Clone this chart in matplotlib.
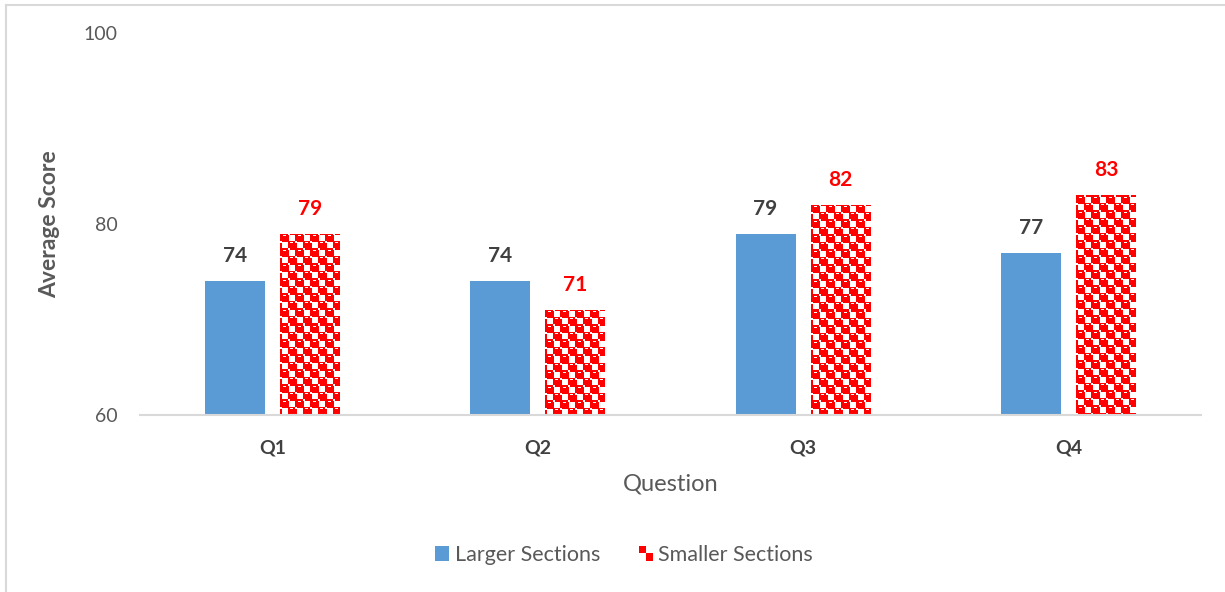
import numpy as np
import matplotlib.pyplot as plt
from matplotlib.patches import Patch, Rectangle
from matplotlib.legend_handler import HandlerBase
from matplotlib.lines import Line2D

questions = ['Q1', 'Q2', 'Q3', 'Q4']
larger_sections = [74, 74, 79, 77]
smaller_sections = [79, 71, 82, 83]
y_ticks = [60, 80, 100]

BLUE = '#5B9BD5'
RED = '#FF0000'
GREY = '#595959'
DARK = '#404040'

plt.rcParams['font.family'] = ['Lato', 'DejaVu Sans']


def pattern_image(w_px, h_px, period=15.0):
    # red/white checker; red cells grow a little so red dominates,
    # each with a short white notch near its top
    cell = period / 2
    yy, xx = np.mgrid[0:max(h_px, 1), 0:max(w_px, 1)]
    cx = np.floor(xx / cell).astype(int)
    cy = np.floor(yy / cell).astype(int)
    lx = xx - cx * cell
    ly = yy - cy * cell
    red = (cx + cy) % 2 == 0
    # spill one pixel into the neighbouring white cell (right and below)
    spill = (~red) & (((lx < 1.2) & (ly >= 2)) | ((ly < 1.2) & (lx >= 2)))
    notch = red & (ly >= 1.5) & (ly < 2.5) & (lx >= 2.5) & (lx < cell - 2)
    red = (red | spill) & ~notch
    img = np.ones((yy.shape[0], yy.shape[1], 3))
    img[red] = (1, 0, 0)
    return img


class PatternHandler(HandlerBase):
    def create_artists(self, legend, orig_handle, xdescent, ydescent,
                       width, height, fontsize, trans):
        arts = [Rectangle((-xdescent, -ydescent), width, height,
                          facecolor='white', edgecolor='none', transform=trans)]
        n = 2
        w, h = width / n, height / n
        for i in range(n):
            for j in range(n):
                if (i + j) % 2 == 1:
                    arts.append(Rectangle((-xdescent + i * w, -ydescent + j * h), w, h,
                                          facecolor=RED, edgecolor='none',
                                          transform=trans))
        return arts


W, H = 1225, 592
fig = plt.figure(figsize=(W / 100, H / 100), dpi=100)
ax = fig.add_axes([140 / W, 177 / H, 1061 / W, 382 / H])

x = np.arange(len(questions))
bar_w = 0.226
offset = 0.1415

ax.set_xlim(-0.5, len(questions) - 0.5)
ax.set_ylim(60, 100)

ax.bar(x - offset, np.array(larger_sections) - 60, bar_w, bottom=60,
       color=BLUE, zorder=2)
red_bars = ax.bar(x + offset, np.array(smaller_sections) - 60, bar_w, bottom=60,
                  facecolor='none', edgecolor='none', zorder=2)

# fill the smaller-section bars with the checker texture
for bar, val in zip(red_bars, smaller_sections):
    x0 = bar.get_x()
    x1 = x0 + bar.get_width()
    p0 = ax.transData.transform((x0, 60))
    p1 = ax.transData.transform((x1, val))
    w_px = int(round(p1[0] - p0[0]))
    h_px = int(round(p1[1] - p0[1]))
    img = ax.imshow(pattern_image(w_px, h_px), extent=(x0, x1, 60, val),
                    interpolation='nearest', aspect='auto', zorder=2)
    img.set_clip_path(bar)

for xi, val in zip(x - offset, larger_sections):
    ax.annotate(str(val), (xi, val), xytext=(0, 18), textcoords='offset points',
                ha='center', va='center', fontsize=15, fontweight='bold', color=DARK)
for xi, val in zip(x + offset, smaller_sections):
    ax.annotate(str(val), (xi, val), xytext=(0, 18), textcoords='offset points',
                ha='center', va='center', fontsize=15, fontweight='bold', color=RED)

for side in ['top', 'right', 'left']:
    ax.spines[side].set_visible(False)
ax.spines['bottom'].set_color('#D9D9D9')
ax.spines['bottom'].set_linewidth(1.5)

ax.set_yticks(y_ticks)
ax.tick_params(axis='y', length=0, pad=16, labelsize=14, labelcolor=GREY)
ax.set_xticks(x)
ax.set_xticklabels(questions, fontweight='bold')
ax.tick_params(axis='x', length=0, pad=18, labelsize=14, labelcolor=DARK)

ax.set_ylabel('Average Score', fontsize=16.5, fontweight='bold', color=GREY)
ax.yaxis.set_label_coords(-0.075, 0.5)
ax.set_xlabel('Question', fontsize=17, color=GREY)
ax.xaxis.set_label_coords(0.5, -0.152)

pattern_handle = Patch(facecolor=RED)
fig.legend(handles=[Patch(facecolor=BLUE), pattern_handle],
           labels=['Larger Sections', 'Smaller Sections'],
           handler_map={pattern_handle: PatternHandler()},
           loc='center', bbox_to_anchor=(624 / W, 1 - 555 / H), ncol=2,
           frameon=False, fontsize=15.5, labelcolor=GREY,
           handlelength=0.65, handleheight=0.65, handletextpad=0.25,
           columnspacing=1.8)

# chart frame (left and top edges)
fig.add_artist(Line2D([6 / W, 6 / W], [0, 1 - 5 / H], color='#D9D9D9', lw=1.5))
fig.add_artist(Line2D([6 / W, 1], [1 - 5 / H, 1 - 5 / H], color='#D9D9D9', lw=1.5))

fig.savefig('out.png', dpi=100)
